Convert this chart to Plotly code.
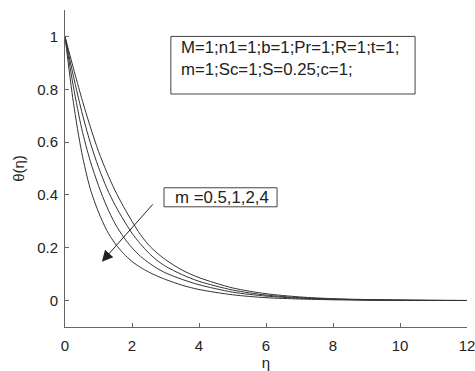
import plotly.graph_objects as go

# ---- data ----
eta = [0, 0.25, 0.5, 0.75, 1, 1.25, 1.5, 1.75, 2, 2.25, 2.5, 2.75, 3, 3.5, 4, 5, 6, 7, 8, 9, 10, 11, 12]
theta_m4 = [1, 0.75, 0.56, 0.425, 0.335, 0.265, 0.215, 0.178, 0.148, 0.126, 0.108, 0.093, 0.08, 0.058, 0.042, 0.022, 0.011, 0.006, 0.003, 0.0015, 0.0008, 0.0004, 0.0002]
theta_m2 = [1, 0.81, 0.65, 0.53, 0.435, 0.355, 0.29, 0.24, 0.20, 0.168, 0.143, 0.122, 0.105, 0.080, 0.060, 0.032, 0.017, 0.009, 0.005, 0.0025, 0.0012, 0.0006, 0.0003]
theta_m1 = [1, 0.85, 0.715, 0.60, 0.505, 0.425, 0.36, 0.305, 0.255, 0.215, 0.18, 0.152, 0.13, 0.098, 0.073, 0.040, 0.021, 0.011, 0.006, 0.003, 0.0015, 0.0007, 0.0003]
theta_m05 = [1, 0.88, 0.765, 0.66, 0.565, 0.485, 0.415, 0.355, 0.30, 0.25, 0.21, 0.18, 0.155, 0.115, 0.087, 0.048, 0.026, 0.014, 0.007, 0.004, 0.002, 0.001, 0.0005]
series = [theta_m05, theta_m1, theta_m2, theta_m4]
x_ticks = [0, 2, 4, 6, 8, 10, 12]
y_ticks = [0, 0.2, 0.4, 0.6, 0.8, 1]
param_line1 = "M=1;n1=1;b=1;Pr=1;R=1;t=1;"
param_line2 = "m=1;Sc=1;S=0.25;c=1;"
m_label = "m =0.5,1,2,4"

FONT = "Liberation Sans, Arial, sans-serif"
TXT = "#222222"
fig = go.Figure()
for s in series:
    fig.add_trace(go.Scatter(x=eta, y=s, mode="lines",
                             line=dict(color="#333333", width=1, shape="spline", smoothing=0.8),
                             showlegend=False, hoverinfo="skip"))

axis_common = dict(showline=True, linecolor="#666666", linewidth=1, ticks="inside", ticklen=4,
                   tickcolor="#666666", showgrid=False, zeroline=False, ticklabeloverflow="allow",
                   automargin=False, tickfont=dict(family=FONT, size=15, color=TXT))
fig.update_xaxes(range=[0, 12], tickvals=x_ticks, ticklabelstandoff=5,
                 title=dict(text="η", font=dict(family=FONT, size=15, color=TXT), standoff=8),
                 **axis_common)
fig.update_yaxes(range=[-0.1, 1.1], tickvals=y_ticks, ticktext=["0", "0.2", "0.4", "0.6", "0.8", "1"],
                 ticklabelstandoff=3,
                 title=dict(text="θ(η)", font=dict(family=FONT, size=15, color=TXT), standoff=8),
                 **axis_common)

# parameter box
fig.add_shape(type="rect", xref="x", yref="y", x0=3.16, x1=10.45, y0=0.782, y1=1.0,
              line=dict(color="#444444", width=1), fillcolor="white", layer="above")
fig.add_annotation(x=3.40, y=0.9155, xref="x", yref="y", text=param_line1 + "<br>" + param_line2,
                   showarrow=False, align="left", xanchor="left", yanchor="middle",
                   font=dict(family=FONT, size=16.8, color=TXT))

# m label box
fig.add_shape(type="rect", xref="x", yref="y", x0=2.955, x1=6.33, y0=0.355, y1=0.427,
              line=dict(color="#444444", width=1), fillcolor="white", layer="above")
fig.add_annotation(x=3.22, y=0.392, xref="x", yref="y", text=m_label, showarrow=False,
                   xanchor="left", yanchor="middle", font=dict(family=FONT, size=16.8, color=TXT))
# arrow
fig.add_annotation(x=1.10, y=0.147, ax=2.66, ay=0.37, xref="x", yref="y", axref="x", ayref="y",
                   text="", showarrow=True, arrowhead=2, arrowsize=2.2, arrowwidth=1, arrowcolor="#222222")

fig.update_layout(width=475, height=371, margin=dict(l=65, r=8, t=10, b=44),
                  plot_bgcolor="white", paper_bgcolor="white")
fig.write_html("out.html")
